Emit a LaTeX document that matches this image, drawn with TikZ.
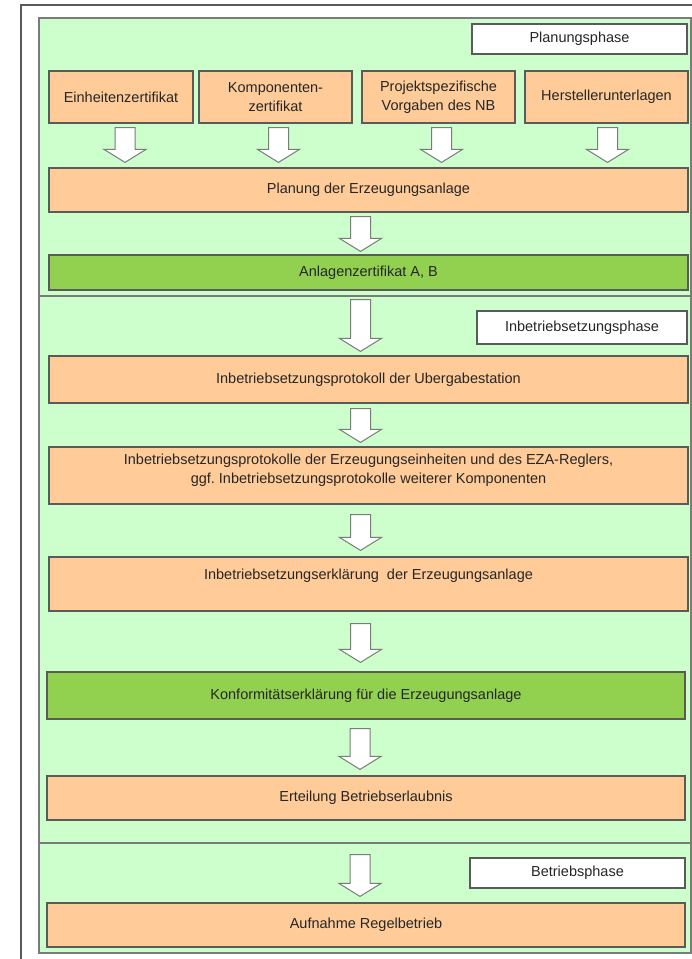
\documentclass[tikz,border=0pt]{standalone}
\usepackage{fontspec}
\setmainfont{Liberation Sans}
\usetikzlibrary{calc}
\definecolor{peach}{RGB}{255,204,153}
\definecolor{cert}{RGB}{146,208,80}
\definecolor{phasebg}{RGB}{204,255,204}
\definecolor{rim}{RGB}{90,90,90}
\frenchspacing

% block arrow: from node, to node, x offset, top gap, bottom gap
\newcommand{\blockarrow}[5]{%
  \path ($(#1.south)+(#3,#4)$) coordinate (ba-s);
  \path ($(ba-s |- #2.north)+(0,-#5)$) coordinate (ba-e);
  \draw[blk] ($(ba-s)+(-10,0)$) -- ($(ba-s)+(10,0)$) -- ($(ba-e)+(10,-13)$)
    -- ($(ba-e)+(21,-13)$) -- (ba-e) -- ($(ba-e)+(-21,-13)$)
    -- ($(ba-e)+(-10,-13)$) -- cycle;}

\begin{document}
\begin{tikzpicture}[x=1pt, y=-1pt, font=\fontsize{14.5}{19}\selectfont,
  box/.style={draw=rim, line width=1.2pt, fill=peach, align=center, inner sep=0pt, text=black!85},
  cert/.style={box, fill=cert},
  phase/.style={draw=rim, line width=1.2pt, fill=white, align=center, inner sep=0pt, text=black!85},
  blk/.style={draw=rim!80, line width=1pt, fill=white, line join=miter}]

\useasboundingbox (0,0) rectangle (692,959);
\fill[white] (0,0) rectangle (692,959);
\draw[rim, line width=1.5pt] (21,5) rectangle (720,990);
\draw[rim!80, line width=1.5pt, fill=phasebg] (39,18) rectangle (691,953);
\draw[rim!80, line width=1.8pt] (39,296) -- (691,296);
\draw[rim!80, line width=1.8pt] (39,843) -- (691,843);

\node[phase, minimum width=215pt, minimum height=30pt] at (579.5,39) (planph) {Planungsphase};

\node[box, minimum width=144pt, minimum height=52pt] at (121,97) (einh) {Einheitenzertifikat};
\node[box, minimum width=153pt, minimum height=52pt] at (275.5,97) (komp) {Komponenten-\\zertifikat};
\node[box, minimum width=153pt, minimum height=52pt] at (438.5,97) (proj) {Projektspezifische\\Vorgaben des NB};
\node[box, minimum width=163pt, minimum height=52pt] at (606.5,97) (herst) {Herstellerunterlagen};

\node[box, minimum width=639pt, minimum height=44pt] at (368.5,190) (planung) {Planung der Erzeugungsanlage};
\node[cert, minimum width=639pt, minimum height=35pt] at (368.5,272.5) (anlz) {Anlagenzertifikat A, B};

\node[phase, minimum width=210pt, minimum height=33pt] at (582,327.5) (ibnph) {Inbetriebsetzungsphase};

\node[box, minimum width=639pt, minimum height=47pt] at (368.5,379.5) (uebg) {Inbetriebsetzungsprotokoll der Ubergabestation};
\node[box, minimum width=639pt, minimum height=57pt] at (368.5,475.5) (prot) {Inbetriebsetzungsprotokolle der Erzeugungseinheiten und des EZA-Reglers,\\ggf. Inbetriebsetzungsprotokolle weiterer Komponenten\\[-6pt]~};
\node[box, minimum width=639pt, minimum height=54pt] at (368.5,584) (erkl) {Inbetriebsetzungserklärung\ \ der Erzeugungsanlage\\~};
\node[cert, minimum width=638pt, minimum height=47pt] at (366,695.5) (konf) {Konformitätserklärung für die Erzeugungsanlage};
\node[box, minimum width=638pt, minimum height=44pt] at (366,798) (ert) {Erteilung Betriebserlaubnis};

\node[phase, minimum width=215pt, minimum height=30pt] at (577.5,873) (betrph) {Betriebsphase};
\node[box, minimum width=638pt, minimum height=44pt] at (366,925) (aufn) {Aufnahme Regelbetrieb};

\blockarrow{einh}{planung}{4}{4}{5}
\blockarrow{komp}{planung}{3}{4}{5}
\blockarrow{proj}{planung}{3}{4}{5}
\blockarrow{herst}{planung}{1}{4}{5}
\blockarrow{planung}{anlz}{-8}{4}{3}
\blockarrow{anlz}{uebg}{-8}{9}{4}
\blockarrow{uebg}{prot}{-8}{5}{4}
\blockarrow{prot}{erkl}{-8}{10}{6}
\blockarrow{erkl}{konf}{-8}{12}{9}
\blockarrow{konf}{ert}{-6}{9}{6}
\blockarrow{ert}{aufn}{-6}{34}{6}
\end{tikzpicture}
\end{document}
